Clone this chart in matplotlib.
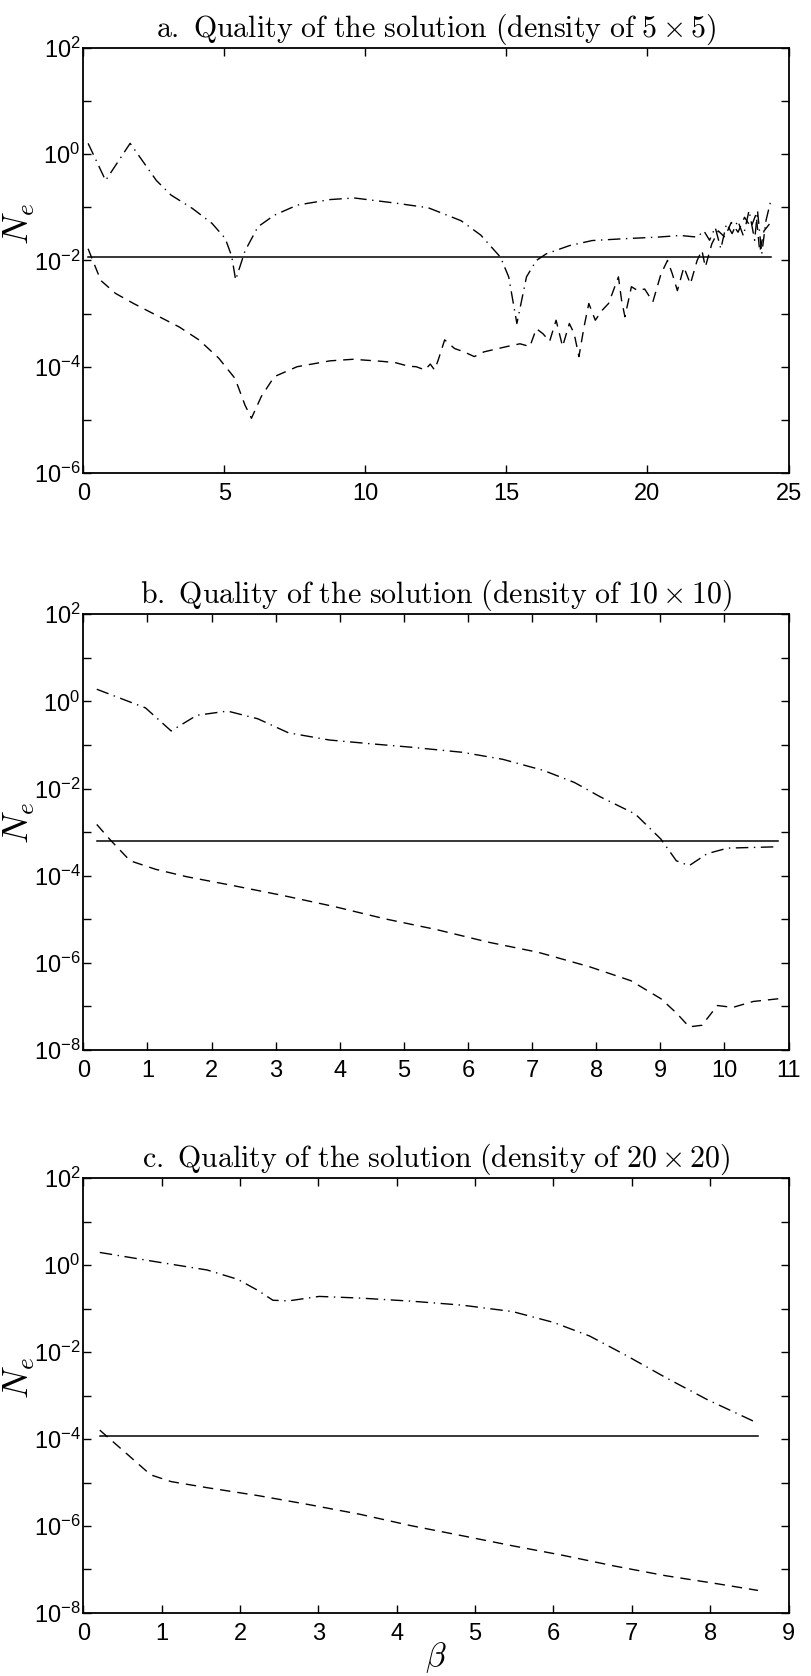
import numpy as np
import matplotlib
matplotlib.use('Agg')
import matplotlib.pyplot as plt
from matplotlib.ticker import LogLocator, FuncFormatter, NullLocator

plt.rcParams['font.family'] = ['Liberation Sans Narrow', 'Liberation Sans', 'DejaVu Sans']

# ---- density 5x5 ----
beta_a_up = [0.17, 0.79, 1.66, 2.59, 3.11, 3.87, 4.56, 5.03, 5.26, 5.40, 5.73, 6.19, 6.77, 7.58,
             8.75, 9.6, 11.07, 12.23, 13.39, 14.09, 14.79, 15.08, 15.37, 15.71, 16.06, 16.41,
             17.23, 18.04, 19.2, 20.36, 21.17, 21.76, 22.0, 22.2, 22.4, 22.6, 22.8, 23.0, 23.2,
             23.4, 23.6, 23.8, 23.9, 24.05, 24.2, 24.37]
ne_a_up = [1.6, 0.32, 1.6, 0.32, 0.17, 0.095, 0.050, 0.026, 0.012, 0.0043, 0.015, 0.043, 0.071, 0.11,
           0.14, 0.15, 0.12, 0.098, 0.056, 0.030, 0.0115, 0.0049, 0.00065, 0.0049, 0.010, 0.0133,
           0.019, 0.0237, 0.0257, 0.0275, 0.0295, 0.0275, 0.036, 0.024, 0.042, 0.0166, 0.049, 0.032, 0.056,
           0.029, 0.087, 0.024, 0.087, 0.0133, 0.056, 0.133]
beta_a_lo = [0.17, 0.62, 1.14, 1.78, 2.59, 3.40, 4.10, 4.80, 5.38, 5.73, 5.96, 6.31, 6.77, 7.58,
             8.75, 9.56, 10.6, 11.07, 11.53, 11.8, 12.11, 12.3, 12.45, 12.58, 12.81, 13.16, 13.5,
             13.86, 14.2, 14.55, 15.02, 15.48, 15.83, 16.06, 16.29, 16.53, 16.76, 16.99, 17.23,
             17.4, 17.57, 17.75, 17.92, 18.15, 18.39, 18.62, 18.97, 19.08, 19.2, 19.43, 19.66,
             19.9, 20.19, 20.48, 20.71, 20.88, 21.06, 21.29, 21.52, 21.76, 21.93, 22.05, 22.28,
             22.51, 22.74, 22.97, 23.21, 23.44, 23.67, 23.85, 23.98, 24.13, 24.37]
ne_a_lo = [0.0166, 0.0042, 0.0024, 0.00155, 0.00093, 0.00056, 0.00032, 0.000145, 6.0e-5, 1.9e-5,
           1.07e-5, 2.75e-5, 6.5e-5, 1.0e-4, 1.29e-4, 1.38e-4, 1.26e-4, 1.19e-4, 1.02e-4, 1.0e-4,
           8.7e-5, 1.12e-4, 8.7e-5, 1.33e-4, 3.2e-4, 2.2e-4, 1.9e-4, 1.55e-4, 1.9e-4, 2.1e-4,
           2.4e-4, 2.7e-4, 2.4e-4, 5.2e-4, 4.2e-4, 3.0e-4, 7.5e-4, 2.4e-4, 6.5e-4, 4.2e-4,
           1.55e-4, 5.6e-4, 1.55e-3, 7.5e-4, 1.15e-3, 1.55e-3, 4.9e-3, 1.8e-3, 8.7e-4, 3.2e-3,
           2.7e-3, 2.9e-3, 1.66e-3, 5.6e-3, 1.0e-2, 5.6e-3, 2.7e-3, 7.5e-3, 3.6e-3, 1.0e-2,
           1.55e-2, 7.5e-3, 0.0205, 0.036, 0.0275, 0.052, 0.034, 0.065, 0.042, 0.075, 0.0145,
           0.036, 0.052]
beta_a_ref = [0.17, 24.37]
ne_a_ref = [0.0115, 0.0115]

# ---- density 10x10 ----
beta_b_up = [0.21, 0.97, 1.37, 1.77, 2.25, 2.72, 3.2, 3.84, 4.47, 5.11, 5.91, 6.54, 7.18, 7.66,
             8.06, 8.61, 9.01, 9.25, 9.45, 9.73, 10.05, 10.8]
ne_b_up = [1.9, 0.71, 0.21, 0.48, 0.60, 0.40, 0.19, 0.13, 0.107, 0.089, 0.068, 0.047, 0.026, 0.0138,
           0.0065, 0.0026, 6.9e-4, 2.2e-4, 1.7e-4, 3.2e-4, 4.3e-4, 4.6e-4]
beta_b_lo = [0.21, 0.41, 0.73, 1.13, 1.61, 2.32, 3.12, 3.92, 4.71, 5.51, 6.31, 7.10, 7.9, 8.54,
             9.01, 9.25, 9.45, 9.65, 9.89, 10.13, 10.45, 10.84]
ne_b_lo = [1.5e-3, 6.9e-4, 2.2e-4, 1.4e-4, 9.5e-5, 6.0e-5, 3.5e-5, 1.95e-5, 1.02e-5, 5.8e-6,
           3.0e-6, 1.74e-6, 8.1e-7, 3.9e-7, 1.5e-7, 7.1e-8, 3.4e-8, 3.7e-8, 1.05e-7, 9.5e-8,
           1.3e-7, 1.5e-7]
beta_b_ref = [0.21, 10.84]
ne_b_ref = [6.4e-4, 6.4e-4]

# ---- density 20x20 ----
beta_c_up = [0.21, 0.99, 1.58, 1.97, 2.23, 2.42, 2.62, 3.01, 3.53, 4.18, 4.83, 5.48, 6.0, 6.46,
             6.91, 7.43, 7.96, 8.61]
ne_c_up = [1.95, 1.14, 0.77, 0.47, 0.26, 0.155, 0.15, 0.19, 0.174, 0.148, 0.12, 0.085, 0.048,
           0.0234, 0.0087, 0.0026, 8.1e-4, 2.3e-4]
beta_c_lo = [0.21, 0.53, 0.86, 1.12, 1.58, 2.23, 2.88, 3.53, 4.18, 4.83, 5.48, 6.13, 6.78, 7.43,
             8.09, 8.61]
ne_c_lo = [1.6e-4, 5.0e-5, 1.5e-5, 1.05e-5, 7.6e-6, 5.0e-6, 3.1e-6, 1.86e-6, 1.02e-6, 6.0e-7,
           3.5e-7, 2.1e-7, 1.2e-7, 7.2e-8, 4.7e-8, 3.3e-8]
beta_c_ref = [0.21, 8.61]
ne_c_ref = [1.2e-4, 1.2e-4]

titles = [r'$\mathrm{a.\ Quality\ of\ the\ solution\ (density\ of\ 5\times 5)}$',
          r'$\mathrm{b.\ Quality\ of\ the\ solution\ (density\ of\ 10\times 10)}$',
          r'$\mathrm{c.\ Quality\ of\ the\ solution\ (density\ of\ 20\times 20)}$']
xmax = [25, 11, 9]
xstep = [5, 1, 1]
ymin = [1e-6, 1e-8, 1e-8]
# vertical spot of the N_e label in each panel (axes fraction)
ylab_y = [0.585, 0.52, 0.54]


def even_pow(v, pos):
    e = int(round(np.log10(v)))
    if e % 2:
        return ''
    return r'$\mathregular{10^{%d}}$' % e


def draw_panel(ax, k, up, lo, ref):
    ax.plot(ref[0], ref[1], color='k', lw=1.1, ls='-')
    ax.plot(up[0], up[1], color='k', lw=1.0, dashes=(9, 4, 1, 4))
    ax.plot(lo[0], lo[1], color='k', lw=1.0, dashes=(7.5, 5))
    ax.set_yscale('log')
    ax.set_xlim(0, xmax[k])
    ax.set_ylim(ymin[k], 1e2)
    ax.set_xticks(np.arange(0, xmax[k] + 1, xstep[k]))
    ax.yaxis.set_major_locator(LogLocator(base=10, subs=(1.0,), numticks=20))
    ax.yaxis.set_minor_locator(NullLocator())
    ax.yaxis.set_major_formatter(FuncFormatter(even_pow))
    ax.tick_params(direction='in', top=True, right=True, length=6, width=1.0, labelsize=17)
    ax.tick_params(axis='y', pad=2)
    ax.tick_params(axis='x', pad=7)
    for s in ax.spines.values():
        s.set_linewidth(1.3)
    ax.set_title(titles[k], fontsize=21.5, pad=8, math_fontfamily='cm')
    ax.set_ylabel(r'$N_e$', fontsize=26, math_fontfamily='cm')
    ax.yaxis.set_label_coords(-0.066, ylab_y[k])


fig = plt.figure(figsize=(8.12, 16.76), dpi=100)
ax_a = fig.add_axes([0.1026, 0.7178, 0.8685, 0.2536])
ax_b = fig.add_axes([0.1026, 0.3735, 0.8685, 0.2600])
ax_c = fig.add_axes([0.1026, 0.0376, 0.8685, 0.2595])

draw_panel(ax_a, 0, (beta_a_up, ne_a_up), (beta_a_lo, ne_a_lo), (beta_a_ref, ne_a_ref))
draw_panel(ax_b, 1, (beta_b_up, ne_b_up), (beta_b_lo, ne_b_lo), (beta_b_ref, ne_b_ref))
draw_panel(ax_c, 2, (beta_c_up, ne_c_up), (beta_c_lo, ne_c_lo), (beta_c_ref, ne_c_ref))
ax_c.set_xlabel(r'$\beta$', fontsize=24, labelpad=-3, math_fontfamily='cm')

fig.savefig('out.png', dpi=100)
